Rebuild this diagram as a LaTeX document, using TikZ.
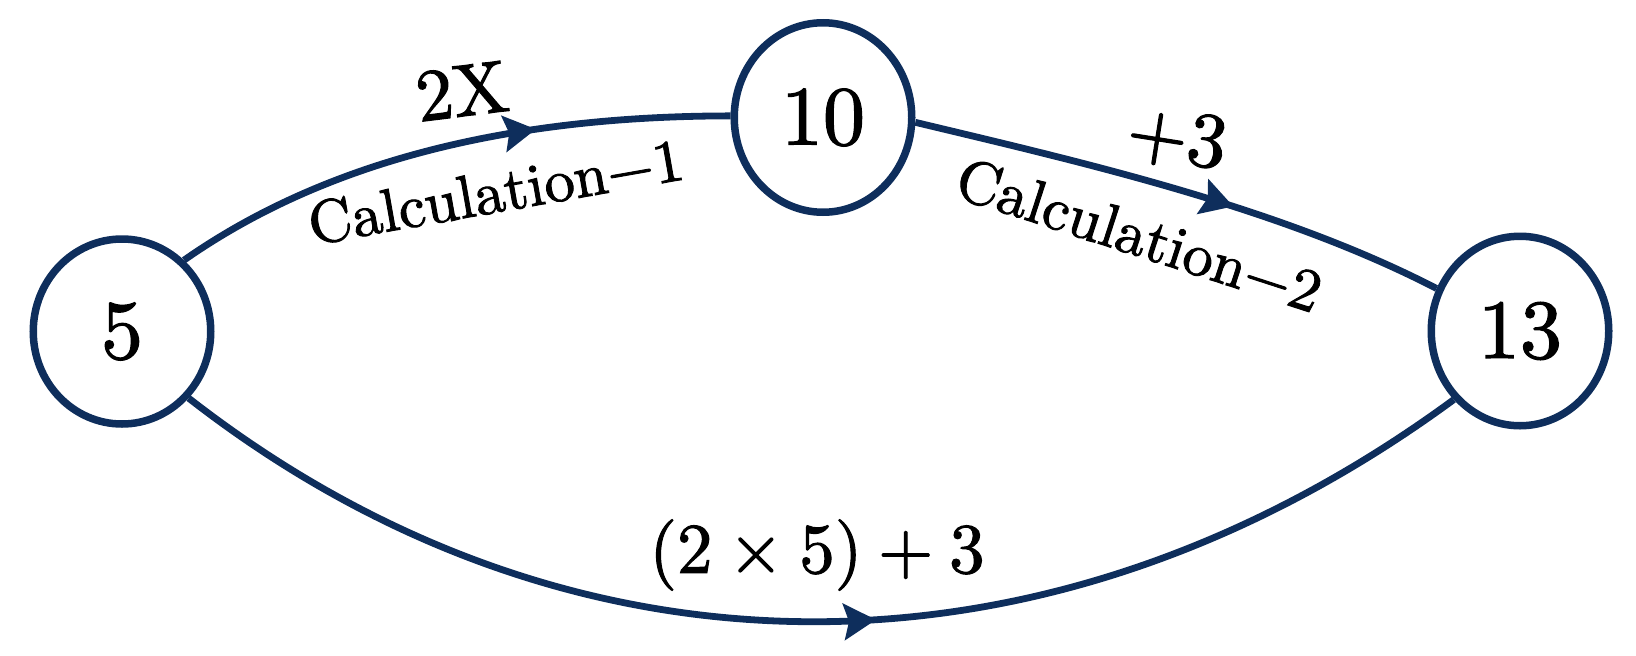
\documentclass[tikz,border=0pt]{standalone}
\usepackage{fontspec}
\usetikzlibrary{arrows.meta,decorations.markings,shapes.geometric}
\newfontfamily\heavy{lmroman10-regular}[Extension=.otf,FakeBold=1.5]
\definecolor{navy}{RGB}{14,46,92}
\newcommand{\mbsp}{\hspace{0.222em}}
\begin{document}
\begin{tikzpicture}[x=1pt,y=-1pt,
  numnode/.style={ellipse,draw=navy,line width=7.5pt,minimum width=177.5pt,minimum height=189.5pt,inner sep=0pt,font=\heavy\fontsize{84}{84}\selectfont},
  calcedge/.style={draw=navy,line width=6.8pt},
  midarrow/.style={postaction={decorate},decoration={markings,mark=at position #1 with {\arrow[navy]{Stealth[length=32pt,width=36pt,inset=5pt]}}}},
  lab/.style={inner sep=0pt}
]
\useasboundingbox (0,0) rectangle (1636,656);
\node[numnode,minimum height=185pt] (n5) at (122,331.5) {5};
\node[numnode] (n10) at (823,117.5) {10};
\node[numnode] (n13) at (1520,331) {13};

\draw[calcedge,midarrow=0.66] (n5.49) .. controls (320,165) and (500,116) .. (n10.179);
\draw[calcedge,midarrow=0.6] (n10.-3) .. controls (1081,162) and (1279,207) .. (n13.153);
\draw[calcedge,midarrow=0.541] (n5.-45) .. controls (571,696) and (1050,696) .. (n13.-134);

\node[lab,font=\heavy\fontsize{74}{74}\selectfont,rotate=7] (l2x) at (462,91) {2X};
\node[lab,font=\heavy\fontsize{60.5}{60.5}\selectfont,rotate=10,anchor=base west] (lc1) at (312,245) {Calculation−1};
\node[lab,font=\heavy\fontsize{78}{78}\selectfont,rotate=-9] (lp3) at (1177,139) {+3};
\node[lab,font=\heavy\fontsize{60.5}{60.5}\selectfont,rotate=-18,anchor=base west] (lc2) at (952,196) {Calculation−2};
\node[lab,font=\heavy\fontsize{71}{71}\selectfont] (lsum) at (817,555) {(2\mbsp×\mbsp5)\mbsp+\mbsp3};
\end{tikzpicture}
\end{document}
